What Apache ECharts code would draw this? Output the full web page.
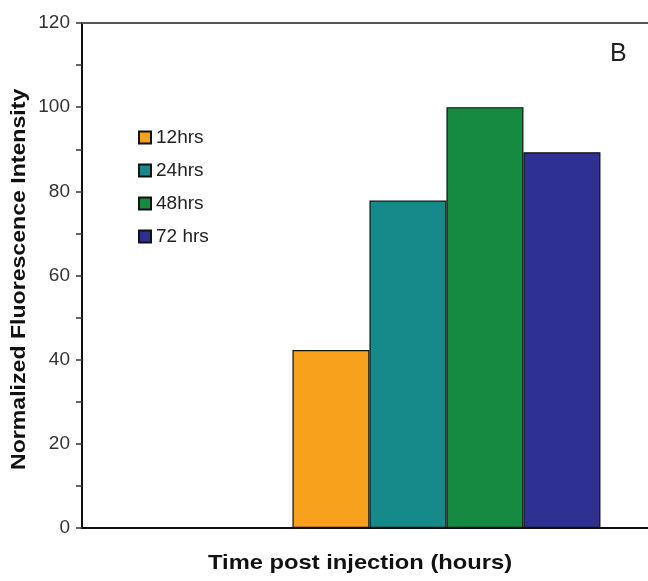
<!DOCTYPE html>
<html>
<head>
<meta charset="utf-8">
<script src="https://cdn.jsdelivr.net/npm/echarts@6/dist/echarts.min.js"></script>
<style>html,body{margin:0;padding:0;background:#fff}#c{width:648px;height:581px}</style>
</head>
<body>
<div id="c"></div>
<script>
const groupPosition = 1;            // position of the measured group on the (hidden) x axis
const seriesNames = ['12hrs', '24hrs', '48hrs', '72 hrs'];
const values12 = [42.3];
const values24 = [77.8];
const values48 = [100.0];
const values72 = [89.3];
const yTicks = [0, 20, 40, 60, 80, 100, 120];
const colors = ['#F7A11C', '#16898B', '#168A40', '#2E3192'];

const chart = echarts.init(document.getElementById('c'), null, {renderer: 'canvas'});
const allValues = [values12, values24, values48, values72];
const hiddenX = {
  type: 'value', min: 0, max: 1.553,
  axisTick: {show: false}, axisLabel: {show: false}, splitLine: {show: false}
};
chart.setOption({
  animation: false,
  backgroundColor: '#fff',
  grid: {left: 82, right: 0, top: 23, height: 505},
  legend: {
    orient: 'vertical', left: 138, top: 128, padding: 0,
    itemWidth: 12, itemHeight: 12, itemGap: 14,
    icon: 'rect',
    textStyle: {fontFamily: 'Liberation Sans, Arial', fontSize: 19, lineHeight: 16, color: '#222'},
    data: seriesNames
  },
  xAxis: [
    Object.assign({}, hiddenX, {position: 'bottom', axisLine: {show: true, onZero: false, lineStyle: {color: '#111', width: 2}}}),
    Object.assign({}, hiddenX, {position: 'top', axisLine: {show: true, onZero: false, lineStyle: {color: '#555', width: 2}}})
  ],
  yAxis: {
    type: 'value', min: yTicks[0], max: yTicks[yTicks.length - 1], interval: 20,
    axisLine: {show: true, onZero: false, lineStyle: {color: '#111', width: 2}},
    axisTick: {show: true, length: 6, lineStyle: {color: '#333', width: 1.5}},
    minorTick: {show: true, splitNumber: 2, length: 6, lineStyle: {color: '#333', width: 1.5}},
    axisLabel: {fontFamily: 'Liberation Sans, Arial', fontSize: 19, color: '#333', margin: 12},
    splitLine: {show: false}
  },
  series: seriesNames.map((n, i) => ({
    name: n, type: 'bar', xAxisIndex: 0, data: allValues[i].map(v => [groupPosition, v]), barWidth: 77, barGap: '0%',
    clip: false,
    itemStyle: {color: colors[i], borderColor: '#111', borderWidth: 1.2}
  })),
  graphic: [
    {type: 'text', x: 208, y: 553, scaleX: 1.13, style: {text: 'Time post injection (hours)', font: 'bold 21px "Liberation Sans", Arial', fill: '#111'}},
    {type: 'text', x: 9, y: 470, rotation: Math.PI / 2, scaleX: 1.1, style: {text: 'Normalized Fluorescence Intensity', font: 'bold 21px "Liberation Sans", Arial', fill: '#111'}},
    {type: 'text', left: 610, top: 42, style: {text: 'B', font: '25px "Liberation Sans", Arial', fill: '#222'}}
  ]
});
</script>
</body>
</html>
